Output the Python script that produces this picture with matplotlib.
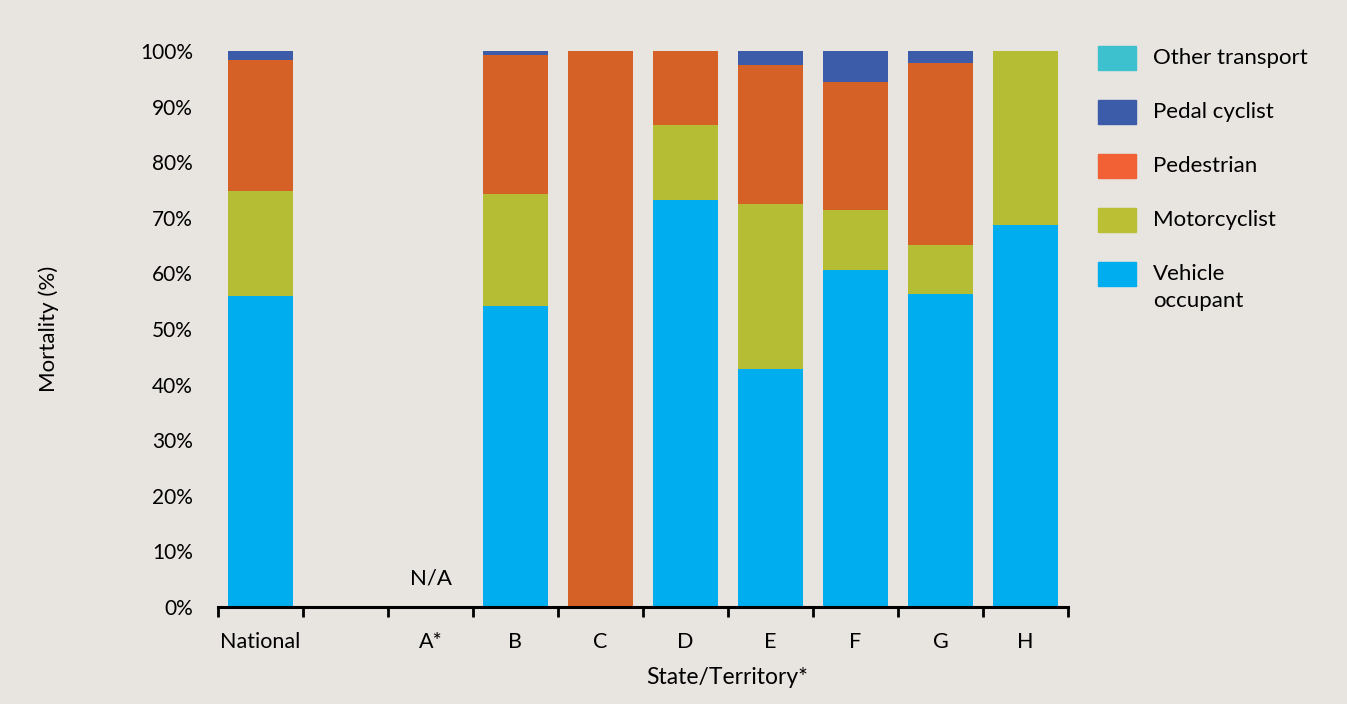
import matplotlib.pyplot as plt
from matplotlib.patches import Rectangle
import numpy as np

plt.rcParams['font.family'] = ['Lato', 'DejaVu Sans']

# slot 1 is an empty gap, A* has no data (N/A)
categories = ['National', '', 'A*', 'B', 'C', 'D', 'E', 'F', 'G', 'H']

vehicle = [55.9, 0, 0, 54.1, 0, 73.2, 42.8, 60.6, 56.3, 68.7]
motorcyclist = [18.9, 0, 0, 20.2, 0, 13.5, 29.7, 10.8, 8.8, 31.3]
pedestrian = [23.5, 0, 0, 25.0, 100.0, 13.3, 25.0, 23.1, 32.8, 0]
pedal = [1.7, 0, 0, 0.7, 0, 0, 2.5, 5.5, 2.1, 0]
other = [0, 0, 0, 0, 0, 0, 0, 0, 0, 0]

series = [('Vehicle\noccupant', vehicle, '#00AEEF', '#00AEEF'),
          ('Motorcyclist', motorcyclist, '#B5BD35', '#BABF34'),
          ('Pedestrian', pedestrian, '#D66126', '#F26135'),
          ('Pedal cyclist', pedal, '#3C5BA9', '#3C5BA9'),
          ('Other transport', other, '#3EC1CE', '#3EC1CE')]

bg = '#E8E4E0'
fig = plt.figure(figsize=(13.47, 7.04), dpi=100, facecolor=bg)
ax = fig.add_axes([218/1347, 1-607/704, 850/1347, 556/704], facecolor=bg)

x = np.arange(len(categories))
bottom = np.zeros(len(categories))
for name, vals, col, lcol in series:
    vals = np.array(vals)
    ax.bar(x, vals, width=0.77, bottom=bottom, color=col, edgecolor='none', zorder=2)
    bottom += vals

ax.set_xlim(-0.5, len(categories) - 0.5)
ax.set_ylim(0, 100)

ax.set_yticks(np.arange(0, 101, 10))
ax.set_yticklabels([f'{v}%' for v in range(0, 101, 10)], fontsize=15)
ax.tick_params(axis='y', length=0, pad=18)

ax.set_xticks(x)
ax.set_xticklabels(categories, fontsize=15.5)
ax.tick_params(axis='x', which='major', length=0, pad=18)
ax.set_xticks(np.arange(-0.5, len(categories), 1), minor=True)
ax.tick_params(axis='x', which='minor', length=7, width=2, direction='out', color='black')

for s in ['top', 'right', 'left']:
    ax.spines[s].set_visible(False)
ax.spines['bottom'].set_linewidth(2.2)

ax.text(2, 5.2, 'N/A', ha='center', va='center', fontsize=16)

ax.set_ylabel('Mortality (%)', fontsize=16)
ax.yaxis.set_label_coords(-159/850, 0.5)
ax.set_xlabel('State/Territory*', fontsize=16.5)
ax.xaxis.set_label_coords(509/850, -60/556)

# legend drawn by hand so the two-line label lines up with its first line
leg_y = [58, 112, 166, 220, 274]
for (name, vals, col, lcol), yy in zip(series[::-1], leg_y):
    fig.add_artist(Rectangle((1098/1347, 1-(yy+12)/704), 38/1347, 24/704,
                             transform=fig.transFigure, color=lcol))
    fig.text(1153/1347, 1-(yy-10)/704, name, fontsize=16, va='top', ha='left',
             linespacing=1.45)

fig.savefig('out.png', dpi=100, facecolor=bg)
